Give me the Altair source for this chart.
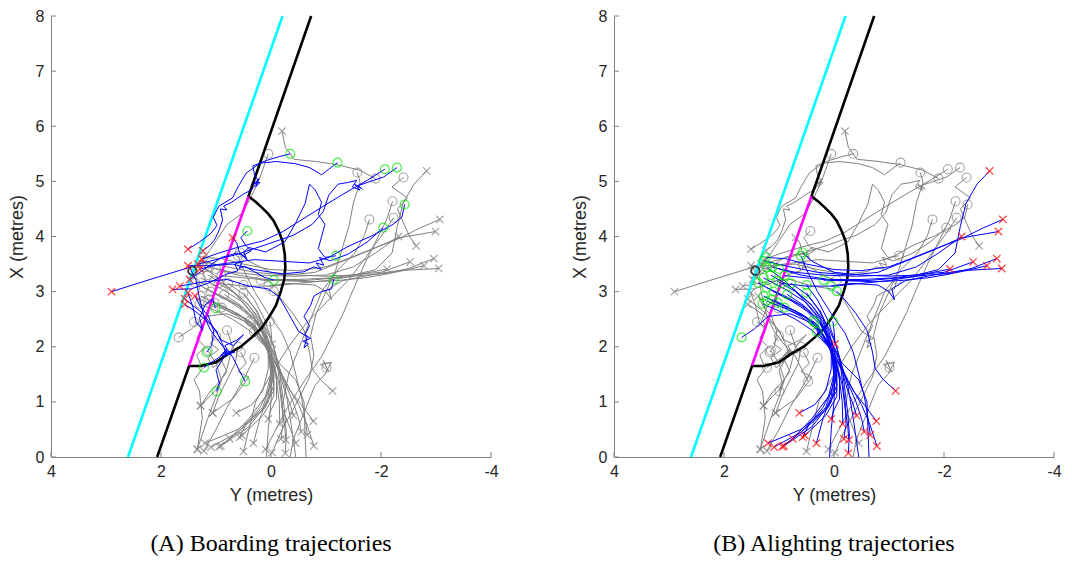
import altair as alt
import pandas as pd

# ---------------- axis ticks ----------------
x_ticks = [4, 2, 0, -2, -4]
y_ticks = [0, 1, 2, 3, 4, 5, 6, 7, 8]

# ---------------- platform geometry (Y, X in metres) ----------------
cyan_y = [2.60, -0.21]
cyan_x = [0.0, 8.0]
edge_y = [2.07, 1.49, 1.28, 1.00, 0.78, 0.55, 0.35, 0.17, 0.04, -0.09, -0.18,
          -0.24, -0.26, -0.25, -0.21, -0.14, -0.05, 0.05, 0.16, 0.28, 0.41, -0.73]
edge_x = [0.0, 1.65, 1.65, 1.72, 1.87, 2.00, 2.17, 2.34, 2.53, 2.75, 3.01,
          3.22, 3.44, 3.68, 3.92, 4.10, 4.28, 4.41, 4.52, 4.63, 4.73, 8.0]
door_y = [1.49, 0.41]
door_x = [1.66, 4.73]
pole_y = [1.43]
pole_x = [3.38]

# ---------------- trajectories: (Y, X) points ----------------
boarding_paths = [
    [(-0.35, 5.50), (-0.15, 5.45), (0.08, 5.38), (0.33, 5.28), (0.30, 5.12), (0.24, 5.02), (0.32, 4.96),
     (0.20, 4.98), (0.28, 4.90), (0.22, 5.05), (0.35, 4.85), (0.50, 4.77), (0.72, 4.62), (0.86, 4.55),
     (0.80, 4.48), (0.92, 4.50), (0.88, 4.30), (0.95, 4.10), (1.02, 3.95), (1.10, 3.85), (1.24, 3.74)],
    [(-1.21, 5.34), (-1.05, 5.22), (-0.92, 5.12), (-0.70, 5.25), (-0.45, 5.32), (-0.10, 5.36), (0.20, 5.33),
     (0.45, 5.15), (0.60, 4.90), (0.70, 4.70), (0.95, 4.55), (1.05, 4.35), (0.98, 4.20), (1.10, 4.05),
     (1.30, 3.90), (1.51, 3.77)],
    [(-2.07, 5.22), (-1.75, 5.02), (-1.40, 4.82), (-1.00, 4.58), (-0.60, 4.33), (-0.20, 4.08), (0.15, 3.92),
     (0.55, 3.82), (0.95, 3.70), (1.26, 3.59)],
    [(-2.29, 5.25), (-2.05, 5.08), (-1.75, 4.98), (-1.58, 4.92), (-1.66, 4.86), (-1.52, 4.95), (-1.62, 4.84),
     (-1.48, 4.90), (-1.56, 5.02), (-1.40, 4.98), (-1.22, 4.95), (-1.05, 4.75), (-0.95, 4.45), (-0.75, 4.22),
     (-0.40, 4.02), (0.10, 3.85), (0.60, 3.68), (1.00, 3.58), (1.33, 3.50)],
    [(-2.43, 4.58), (-2.38, 4.35), (-2.22, 4.22), (-1.85, 4.02), (-1.40, 3.82), (-1.05, 3.62), (-0.70, 3.52),
     (-0.20, 3.55), (0.30, 3.58), (0.75, 3.52), (1.15, 3.47), (1.51, 3.47)],
    [(-2.04, 4.16), (-1.75, 3.90), (-1.40, 3.68), (-1.08, 3.56), (-0.88, 3.62), (-0.96, 3.48), (-0.82, 3.52),
     (-0.92, 3.40), (-0.78, 3.45), (-0.60, 3.36), (-0.20, 3.32), (0.30, 3.40), (0.70, 3.50), (1.00, 3.48),
     (1.29, 3.41)],
    [(-1.18, 3.65), (-0.98, 3.62), (-0.86, 3.78), (-0.92, 4.00), (-0.98, 4.22), (-0.86, 4.40), (-0.92, 4.62),
     (-0.80, 4.85), (-0.70, 4.95), (-0.62, 4.60), (-0.45, 4.25), (-0.25, 3.90), (0.10, 3.72), (0.40, 3.80),
     (0.50, 3.72), (0.45, 3.62), (0.62, 3.70), (0.90, 3.62), (1.15, 3.45), (1.48, 3.22)],
    [(-1.14, 3.22), (-1.10, 3.05), (-0.92, 3.00), (-0.78, 2.92), (-0.72, 2.75), (-0.60, 2.55), (-0.70, 2.38),
     (-0.62, 2.22), (-0.72, 2.15), (-0.58, 2.10), (-0.68, 2.05), (-0.60, 1.98), (-0.66, 2.18), (-0.50, 2.28),
     (-0.32, 2.60), (-0.15, 2.90), (0.05, 3.05), (0.40, 3.10), (0.80, 3.22), (1.20, 3.18), (1.66, 3.10)],
    [(-0.05, 3.21), (0.12, 3.26), (0.30, 3.36), (0.48, 3.46), (0.58, 3.42), (0.52, 3.55), (0.66, 3.50),
     (0.60, 3.38), (0.80, 3.32), (1.15, 3.15), (1.45, 3.05), (1.79, 3.04)],
    [(0.43, 4.10), (0.55, 3.98), (0.46, 3.84), (0.36, 3.74), (0.50, 3.66), (0.42, 3.56), (0.58, 3.72),
     (0.62, 3.88), (0.70, 3.98)],
    [(1.01, 2.70), (1.06, 2.86), (1.20, 2.76), (1.30, 2.52), (1.24, 2.30), (1.36, 2.45), (1.42, 2.72),
     (1.51, 2.98)],
    [(1.17, 1.90), (1.08, 2.02), (1.04, 2.28), (1.14, 2.56), (1.28, 2.72), (1.38, 2.92)],
    [(1.22, 1.62), (1.08, 1.72), (0.92, 1.82), (0.80, 1.96), (0.88, 1.88), (0.74, 1.86), (0.84, 2.02),
     (0.62, 2.12), (0.50, 2.22), (0.68, 2.02), (0.90, 2.12), (1.08, 2.40), (1.26, 2.62), (1.57, 2.87)],
    [(0.47, 1.37), (0.58, 1.58), (0.70, 1.82), (0.78, 1.92), (0.66, 1.90), (0.82, 1.86), (0.86, 2.00),
     (1.00, 2.30), (1.20, 2.50), (1.40, 2.66), (1.57, 2.77)],
    [(0.99, 1.19), (0.94, 1.34), (1.00, 1.58), (0.86, 1.80), (0.80, 1.92), (0.92, 1.84), (0.76, 1.86),
     (0.95, 2.10), (1.10, 2.30), (1.22, 2.56), (1.30, 2.88), (1.36, 3.20), (1.48, 3.44), (2.20, 3.22),
     (2.90, 3.00)],
]

alighting_paths = [
    [(1.24, 3.62), (0.90, 3.60), (0.50, 3.50), (0.00, 3.40), (-0.50, 3.38), (-1.00, 3.45), (-1.40, 3.60),
     (-1.90, 3.80), (-2.30, 3.95), (-2.70, 4.15), (-3.07, 4.31)],
    [(1.28, 3.56), (0.80, 3.45), (0.30, 3.35), (-0.30, 3.30), (-0.80, 3.35), (-1.30, 3.55), (-1.80, 3.75),
     (-2.30, 3.97), (-2.99, 4.09)],
    [(1.12, 3.44), (0.70, 3.35), (0.20, 3.30), (-0.40, 3.28), (-1.00, 3.30), (-1.50, 3.45), (-1.90, 3.70),
     (-2.32, 4.00)],
    [(0.57, 3.71), (0.40, 3.55), (0.00, 3.35), (-0.50, 3.30), (-1.00, 3.28), (-1.50, 3.30), (-1.90, 3.40),
     (-2.20, 3.70), (-2.30, 4.20), (-2.40, 4.60), (-2.60, 4.95), (-2.83, 5.19)],
    [(0.90, 3.29), (0.50, 3.25), (0.00, 3.20), (-0.60, 3.20), (-1.20, 3.25), (-1.70, 3.30), (-2.10, 3.33),
     (-2.50, 3.42), (-2.96, 3.60)],
    [(1.00, 3.41), (0.60, 3.30), (0.10, 3.22), (-0.50, 3.22), (-1.10, 3.25), (-1.60, 3.32), (-2.00, 3.35),
     (-2.53, 3.54)],
    [(0.19, 3.21), (-0.20, 3.20), (-0.70, 3.18), (-1.20, 3.20), (-1.70, 3.25), (-2.00, 3.30), (-2.40, 3.38),
     (-2.78, 3.47)],
    [(0.05, 3.10), (-0.30, 3.15), (-0.80, 3.12), (-1.00, 3.00), (-1.10, 2.85), (-1.05, 3.05), (-1.30, 3.20),
     (-1.80, 3.30), (-2.30, 3.38), (-3.05, 3.42)],
    [(0.95, 3.15), (0.50, 3.10), (0.00, 3.10), (-0.50, 3.15), (-1.00, 3.20), (-1.50, 3.28), (-1.80, 3.35),
     (-2.11, 3.41)],
    [(-0.05, 3.01), (-0.20, 2.85), (-0.40, 2.60), (-0.60, 2.30), (-0.70, 1.90), (-0.75, 1.60), (-0.90, 1.40),
     (-1.12, 1.20)],
    [(0.02, 2.46), (0.00, 2.30), (-0.02, 2.05)],
    [(1.68, 2.17), (1.45, 2.32), (1.20, 2.55), (0.80, 2.60), (0.45, 2.45), (0.20, 2.20), (0.05, 1.90),
     (0.00, 1.50), (0.05, 1.10), (0.20, 0.70), (0.32, 0.25)],
    [(1.22, 3.44), (0.90, 3.20), (0.60, 2.90), (0.35, 2.60), (0.15, 2.30), (0.05, 1.95), (0.05, 1.60),
     (0.15, 1.20), (0.35, 0.95), (0.63, 0.80)],
    [(1.38, 3.16), (1.00, 2.95), (0.60, 2.75), (0.30, 2.50), (0.12, 2.20), (0.02, 1.85), (0.00, 1.50),
     (0.10, 1.10), (0.40, 0.70), (0.75, 0.33)],
    [(1.28, 3.25), (0.90, 3.05), (0.50, 2.80), (0.25, 2.50), (0.10, 2.15), (0.00, 1.80), (-0.03, 1.40),
     (0.05, 1.00), (0.40, 0.55), (0.91, 0.20)],
    [(1.22, 3.07), (0.85, 2.90), (0.50, 2.70), (0.25, 2.45), (0.10, 2.10), (0.02, 1.75), (0.00, 1.35),
     (0.15, 0.90), (0.60, 0.45), (1.09, 0.18)],
    [(1.03, 3.19), (0.70, 3.00), (0.40, 2.75), (0.20, 2.45), (0.08, 2.10), (-0.02, 1.70), (-0.05, 1.30),
     (0.10, 0.90), (0.60, 0.50), (1.20, 0.25)],
    [(0.78, 3.15), (0.50, 2.95), (0.25, 2.65), (0.10, 2.30), (0.00, 1.95), (-0.05, 1.60), (-0.05, 1.20),
     (0.20, 0.80), (0.60, 0.45), (0.94, 0.19)],
    [(1.28, 2.92), (0.95, 2.75), (0.60, 2.60), (0.30, 2.40), (0.10, 2.05), (0.00, 1.70), (0.00, 1.30),
     (0.20, 0.90), (0.45, 0.60), (0.57, 0.36)],
    [(1.22, 2.83), (0.90, 2.70), (0.55, 2.55), (0.25, 2.30), (0.05, 1.95), (-0.05, 1.55), (-0.05, 1.10),
     (0.15, 0.75), (0.53, 0.39)],
    [(1.12, 2.86), (0.80, 2.70), (0.45, 2.50), (0.20, 2.20), (0.00, 1.85), (-0.10, 1.45), (-0.10, 1.05),
     (0.00, 0.85), (0.05, 0.69)],
    [(1.03, 2.80), (0.70, 2.65), (0.40, 2.45), (0.15, 2.15), (-0.02, 1.80), (-0.10, 1.40), (-0.15, 1.00),
     (-0.16, 0.60)],
    [(0.90, 2.71), (0.60, 2.55), (0.35, 2.35), (0.12, 2.05), (-0.05, 1.70), (-0.15, 1.30), (-0.20, 0.90),
     (-0.25, 0.55), (-0.27, 0.31)],
    [(0.50, 3.12), (0.30, 2.85), (0.12, 2.50), (0.00, 2.15), (-0.10, 1.80), (-0.15, 1.40), (-0.20, 1.00),
     (-0.22, 0.60), (-0.18, 0.33)],
    [(0.50, 2.98), (0.30, 2.70), (0.10, 2.35), (-0.05, 2.00), (-0.15, 1.60), (-0.20, 1.20), (-0.25, 0.80),
     (-0.28, 0.40), (-0.26, 0.07)],
    [(0.38, 2.47), (0.20, 2.20), (0.00, 1.90), (-0.15, 1.55), (-0.25, 1.20), (-0.35, 0.95), (-0.41, 0.75)],
    [(0.35, 2.44), (0.15, 2.15), (-0.05, 1.85), (-0.20, 1.50), (-0.35, 1.20), (-0.55, 0.95), (-0.77, 0.65)],
    [(0.31, 2.27), (0.10, 2.00), (-0.10, 1.70), (-0.25, 1.35), (-0.40, 1.00), (-0.50, 0.70), (-0.55, 0.46)],
    [(0.60, 3.65), (0.50, 3.40), (0.30, 3.00), (0.05, 2.60), (-0.20, 2.25), (-0.35, 1.90), (-0.45, 1.50),
     (-0.55, 1.10), (-0.62, 0.70), (-0.66, 0.40)],
    [(1.30, 2.78), (1.00, 2.65), (0.70, 2.50), (0.40, 2.30), (0.10, 2.00), (-0.10, 1.65), (-0.30, 1.30),
     (-0.50, 0.95), (-0.65, 0.60), (-0.78, 0.20)],
    [(1.15, 3.30), (0.80, 3.10), (0.45, 2.80), (0.20, 2.50), (0.05, 2.10), (-0.02, 1.60), (0.00, 1.00),
     (0.05, 0.50), (0.10, -0.30)],
    [(0.85, 2.95), (0.55, 2.75), (0.30, 2.50), (0.10, 2.20), (-0.10, 1.80), (-0.25, 1.30), (-0.35, 0.70),
     (-0.45, 0.00), (-0.50, -0.30)],
    [(1.10, 3.00), (0.80, 2.85), (0.50, 2.65), (0.25, 2.40), (0.05, 2.05), (-0.15, 1.70), (-0.45, 1.40),
     (-0.60, 1.00), (-0.62, 0.40), (-0.65, -0.30)],
]

other_paths = [
    [(-1.57, 5.16), (-1.62, 4.98), (-1.50, 4.62), (-1.42, 4.20), (-1.30, 3.80), (-1.18, 3.40), (-1.00, 3.00),
     (-0.82, 2.60), (-0.72, 2.20), (-0.78, 1.85), (-0.70, 1.45), (-0.45, 0.95), (-0.20, 0.50), (-0.02, 0.08)],
    [(-2.41, 5.07), (-2.20, 4.90), (-2.48, 4.70), (-2.30, 4.50), (-2.42, 4.22), (-2.52, 4.00), (-2.64, 3.83)],
    [(-2.21, 4.64), (-2.10, 4.30), (-1.90, 3.90), (-1.70, 3.50), (-1.50, 3.05), (-1.32, 2.62), (-1.12, 2.22),
     (-0.92, 1.82), (-0.62, 1.40), (-0.30, 0.90), (0.10, 0.14)],
    [(-2.23, 4.34), (-2.00, 4.00), (-1.72, 3.62), (-1.42, 3.22), (-1.02, 2.82), (-0.62, 2.40), (-0.32, 2.00),
     (0.00, 1.50), (0.28, 1.00), (0.50, 0.10)],
    [(-1.79, 4.31), (-1.70, 4.02), (-1.52, 3.70), (-1.22, 3.40), (-0.92, 3.00), (-0.72, 2.50), (-0.52, 2.00),
     (-0.32, 1.50), (-0.20, 0.90), (-0.45, 0.25)],
    [(0.05, 5.50), (0.12, 5.30), (0.22, 5.02), (0.36, 4.72), (0.52, 4.42), (0.80, 4.22), (1.00, 3.92),
     (1.20, 3.62), (1.45, 3.30)],
    [(-1.90, 5.05), (-1.62, 5.20), (-1.22, 5.30), (-0.82, 5.36), (-0.42, 5.40), (-0.26, 5.62), (-0.20, 5.91)],
    [(1.15, 1.93), (1.00, 1.70), (0.90, 1.40), (1.00, 1.10), (1.15, 0.70), (1.34, 0.14)],
    [(0.80, 2.30), (0.70, 2.00), (0.80, 1.60), (1.00, 1.22), (1.28, 0.93)],
    [(0.60, 2.00), (0.65, 1.70), (0.80, 1.40), (0.95, 1.10), (1.06, 0.80)],
    [(0.30, 1.80), (0.50, 1.40), (0.80, 0.90), (1.00, 0.50), (1.22, 0.11)],
    [(-1.01, 1.62), (-0.95, 1.75), (-1.05, 1.55), (-0.90, 1.68), (-1.10, 1.72), (-0.98, 1.50), (-0.80, 1.30),
     (-0.60, 0.80), (-0.40, 0.30), (-0.30, -0.30)],
    [(1.00, 2.20), (1.10, 2.05), (0.95, 1.95), (1.15, 1.80), (1.05, 1.62), (0.90, 1.75), (0.80, 1.55),
     (0.95, 1.35), (1.10, 1.20), (1.28, 0.93)],
    [(0.55, 1.90), (0.45, 1.70), (0.60, 1.55), (0.40, 1.45), (0.55, 1.25), (0.70, 1.05), (0.85, 0.95),
     (1.06, 0.80)],
    [(1.40, 2.45), (1.25, 2.35), (1.35, 2.15), (1.20, 2.00), (1.35, 1.85), (1.25, 1.60), (1.40, 1.40),
     (1.30, 1.20), (1.25, 0.70), (1.34, 0.14)],
]

captions = {"B": "(A) Boarding trajectories", "A": "(B) Alighting trajectories"}

# ---------------- build tables ----------------
def path_rows(paths, group):
    rows = []
    for i, pts in enumerate(paths):
        n = len(pts)
        for j, (yv, xv) in enumerate(pts):
            rows.append(dict(pid=f"{group}{i}", ord=j, Y=yv, X=xv, group=group,
                             start=(j == 0), end=(j == n - 1)))
    return rows

df = pd.DataFrame(path_rows(boarding_paths, "B") + path_rows(alighting_paths, "A")
                  + path_rows(other_paths, "O"))

def line_df(ys, xs):
    return pd.DataFrame({"Y": ys, "X": xs, "ord": list(range(len(ys)))})

cyan_df = line_df(cyan_y, cyan_x)
edge_df = line_df(edge_y, edge_x)
door_df = line_df(door_y, door_x)
pole_df = line_df(pole_y, pole_x)
xt_df = pd.DataFrame({"Y": x_ticks})
yt_df = pd.DataFrame({"X": y_ticks})

GREY = "#808080"
BLUE = "#0000ff"
GREEN = "#00e600"
RED = "#ff0000"
AXC = "#262626"
CROSS = "M-1,-1L1,1M1,-1L-1,1"

W, H = 440, 441
xscale = alt.Scale(domain=[-4, 4], reverse=True, nice=False, zero=False)
yscale = alt.Scale(domain=[0, 8], nice=False, zero=False)
xaxis = alt.Axis(values=x_ticks, title="Y (metres)", ticks=False, grid=False,
                 labelExpr="'' + datum.value", labelPadding=6, titlePadding=7,
                 labelFlush=False)
yaxis = alt.Axis(values=y_ticks, title="X (metres)", ticks=False, grid=False,
                 labelPadding=7, titlePadding=9, labelFlush=False)

XE = alt.X("Y:Q", scale=xscale, axis=xaxis)
YE = alt.Y("X:Q", scale=yscale, axis=yaxis)


def panel(hl):
    hi = df[df.group == hl]
    lo = df[df.group != hl]
    layers = [
        alt.Chart(lo).mark_line(color=GREY, strokeWidth=1, clip=True).encode(
            x=XE, y=YE, detail="pid:N", order="ord:Q"),
        alt.Chart(lo[lo.start]).mark_point(shape="circle", filled=False, color=GREY, size=80,
                                           strokeWidth=1.1, clip=True).encode(x=XE, y=YE),
        alt.Chart(lo[lo.end]).mark_point(shape=CROSS, filled=False, color=GREY, size=55,
                                         strokeWidth=1.2, clip=True).encode(x=XE, y=YE),
        alt.Chart(cyan_df).mark_line(color="#00ffff", strokeWidth=2.6).encode(x=XE, y=YE, order="ord:Q"),
        alt.Chart(edge_df).mark_line(color="black", strokeWidth=2.6).encode(x=XE, y=YE, order="ord:Q"),
        alt.Chart(door_df).mark_line(color="#ff00ff", strokeWidth=2.6).encode(x=XE, y=YE, order="ord:Q"),
        alt.Chart(pole_df).mark_point(shape="circle", filled=False, color="black", size=70,
                                      strokeWidth=2).encode(x=XE, y=YE),
        alt.Chart(hi).mark_line(color=BLUE, strokeWidth=1, clip=True).encode(
            x=XE, y=YE, detail="pid:N", order="ord:Q"),
        alt.Chart(hi[hi.start]).mark_point(shape="circle", filled=False, color=GREEN, size=80,
                                           strokeWidth=1.2, clip=True).encode(x=XE, y=YE),
        alt.Chart(hi[hi.end]).mark_point(shape=CROSS, filled=False, color=RED, size=55,
                                         strokeWidth=1.3, clip=True).encode(x=XE, y=YE),
        alt.Chart(xt_df).mark_rule(color=GREY, strokeWidth=1).encode(
            x=XE, y=alt.value(H), y2=alt.value(H - 5)),
        alt.Chart(yt_df).mark_rule(color=GREY, strokeWidth=1).encode(
            y=YE, x=alt.value(0), x2=alt.value(5)),
    ]
    return alt.layer(*layers).properties(
        width=W, height=H,
        title=alt.TitleParams(captions[hl], orient="bottom", anchor="middle",
                              font="Liberation Serif", fontSize=24, fontWeight="normal",
                              color="black", offset=28),
    )


chart = alt.hconcat(panel("B"), panel("A"), spacing=72).configure_view(
    stroke=None
).configure_axis(
    domainColor=GREY, domainWidth=1,
    labelFont="Liberation Sans", labelFontSize=16, labelColor=AXC,
    titleFont="Liberation Sans", titleFontSize=18, titleFontWeight="normal", titleColor=AXC,
).properties(padding={"left": 0, "top": 0, "right": 0, "bottom": 0})

chart.save("out.html", embed_options={"renderer": "svg", "actions": False})
